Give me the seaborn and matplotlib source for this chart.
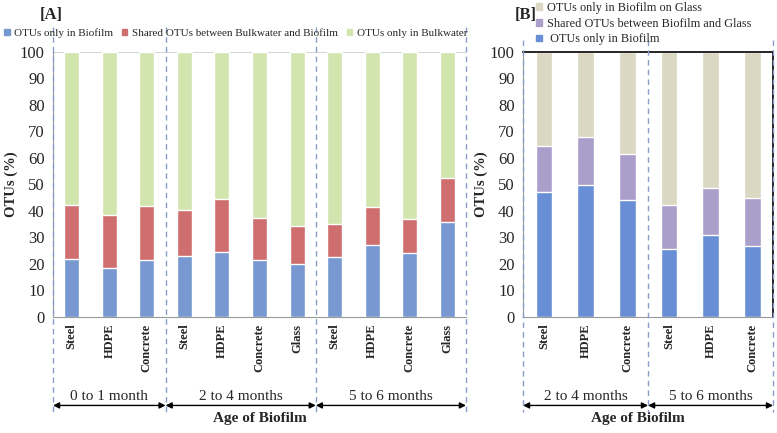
import pandas as pd
import matplotlib.pyplot as plt
import seaborn as sns
from matplotlib.patches import Patch
import matplotlib.transforms as mtransforms

# Panel A data: three age groups on the bulkwater/biofilm split
a_labels = ['Steel', 'HDPE', 'Concrete',
            'Steel', 'HDPE', 'Concrete', 'Glass',
            'Steel', 'HDPE', 'Concrete', 'Glass']
a_biofilm = [21.8, 18.3, 21.5, 22.9, 24.4, 21.3, 20.0, 22.7, 27.0, 24.2, 35.8]
a_shared = [20.4, 20.2, 20.3, 17.3, 20.2, 16.0, 14.3, 12.3, 14.3, 12.7, 16.5]
a_groups = ['0 to 1 month', '2 to 4 months', '5 to 6 months']
a_group_sizes = [3, 4, 4]

# Panel B data: biofilm vs glass
b_labels = ['Steel', 'HDPE', 'Concrete', 'Steel', 'HDPE', 'Concrete']
b_biofilm = [47.1, 49.7, 44.1, 25.6, 31.0, 26.8]
b_shared = [17.4, 18.2, 17.2, 16.6, 17.5, 17.9]
b_groups = ['2 to 4 months', '5 to 6 months']
b_group_sizes = [3, 3]

A_COLS = ['#7898D2', '#CF6E6E', '#D3E5AF']
B_COLS = ['#688ED5', '#AA9ECA', '#DAD7C3']
DASH = '#8A9CC8'

sns.set_style('white')
plt.rcParams['font.family'] = ['Liberation Serif', 'DejaVu Serif']

fig = plt.figure(figsize=(7.77, 4.33), dpi=100)
axA = fig.add_axes([0.0682, 0.2686, 0.5315, 0.6118])
axB = fig.add_axes([0.6731, 0.2686, 0.3218, 0.6118])


def stacked(ax, labels, low, mid, cols):
    ids = [f'{i}_{l}' for i, l in enumerate(labels)]
    df = pd.DataFrame({'id': ids, 'low': low,
                       'mid': [a + b for a, b in zip(low, mid)],
                       'top': [100] * len(ids)})
    for col, c in zip(['top', 'mid', 'low'], cols[::-1]):
        sns.barplot(data=df, x='id', y=col, order=ids, color=c,
                    width=0.4, saturation=1, ax=ax, zorder=2)
    ax.set_xlim(-0.5, len(ids) - 0.5)
    ax.set_ylim(0, 100)
    ax.set_yticks(range(0, 101, 10))
    ax.set_xticks(range(len(ids)))
    ax.set_xticklabels(labels, rotation=90, fontsize=9, fontweight='bold')
    ax.set_xticks([i - 0.5 for i in range(len(ids) + 1)], minor=True)
    ax.tick_params(axis='x', which='major', length=0, pad=5)
    ax.tick_params(axis='x', which='minor', length=4, color='#999999', direction='out')
    ax.tick_params(axis='y', length=3, color='#999999', direction='out', labelsize=12, pad=3)
    ax.set_xlabel('')
    ax.set_ylabel('OTUs (%)', fontsize=10.5, fontweight='bold', labelpad=1)
    for s in ['left', 'bottom']:
        ax.spines[s].set_color('#999999')
        ax.spines[s].set_linewidth(0.8)


def groups(ax, names, sizes, top_y):
    tr = mtransforms.blended_transform_factory(ax.transData, ax.transAxes)
    edges = [-0.5]
    for s in sizes:
        edges.append(edges[-1] + s)
    for x in edges:
        ax.plot([x, x], [top_y, -0.36], transform=tr, color=DASH, lw=1,
                ls=(0, (4, 3)), clip_on=False, zorder=5)
    for name, x0, x1 in zip(names, edges[:-1], edges[1:]):
        ax.annotate('', xy=(x0, -0.335), xytext=(x1, -0.335), xycoords=tr,
                    textcoords=tr, annotation_clip=False,
                    arrowprops=dict(arrowstyle='<|-|>', color='black', lw=1,
                                    mutation_scale=9, shrinkA=0, shrinkB=0))
        ax.text((x0 + x1) / 2, -0.30, name, transform=tr, ha='center',
                va='center', fontsize=11)


# Panel A
stacked(axA, a_labels, a_biofilm, a_shared, A_COLS)
axA.axhline(100, color='#cccccc', lw=1.2, zorder=1)
for s in ['top', 'right']:
    axA.spines[s].set_visible(False)
groups(axA, a_groups, a_group_sizes, 1.094)
axA.text(0.5, -0.385, 'Age of Biofilm', transform=axA.transAxes, ha='center',
         va='center', fontsize=11, fontweight='bold')
fig.text(40 / 777, 1 - 15 / 433, '[A]', fontsize=12, fontweight='bold',
         ha='left', va='center')
fig.legend(handles=[Patch(color=A_COLS[0], label='OTUs only in Biofilm'),
                    Patch(color=A_COLS[1], label='Shared OTUs between Bulkwater and Biofilm'),
                    Patch(color=A_COLS[2], label='OTUs only in Bulkwater')],
           loc='center left', bbox_to_anchor=(4 / 777, 1 - 33 / 433), ncol=3,
           frameon=False, fontsize=8.0, handlelength=0.5, handleheight=0.5,
           handletextpad=0.4, columnspacing=0.8, borderaxespad=0, borderpad=0)

# Panel B
stacked(axB, b_labels, b_biofilm, b_shared, B_COLS)
for s in ['top', 'right']:
    axB.spines[s].set_color('black')
    axB.spines[s].set_linewidth(1.2)
groups(axB, b_groups, b_group_sizes, 1.045)
axB.text(0.46, -0.385, 'Age of Biofilm', transform=axB.transAxes, ha='center',
         va='center', fontsize=11, fontweight='bold')
fig.text(515 / 777, 1 - 15 / 433, '[B]', fontsize=12, fontweight='bold',
         ha='left', va='center')
fig.legend(handles=[Patch(color=B_COLS[2], label='OTUs only in Biofilm on Glass'),
                    Patch(color=B_COLS[1], label='Shared OTUs between Biofilm and Glass'),
                    Patch(color=B_COLS[0], label=' OTUs only in Biofilm')],
           loc='upper left', bbox_to_anchor=(536 / 777, 1 - 2 / 433), ncol=1,
           frameon=False, fontsize=8.8, handlelength=0.5, handleheight=0.5,
           handletextpad=0.4, labelspacing=0.3, borderaxespad=0, borderpad=0)

plt.savefig('out.png', dpi=100)
